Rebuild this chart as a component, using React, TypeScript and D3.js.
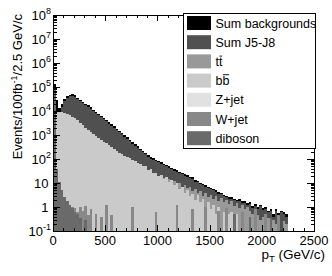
import React, { useEffect, useRef } from 'react';
import * as d3 from 'd3';

// 25 GeV bins from 0 to 2500 GeV/c
const binWidth = 25;
const xTicks = [0, 500, 1000, 1500, 2000, 2500];
const yDecades = [-1, 0, 1, 2, 3, 4, 5, 6, 7, 8];

const sumBackgrounds = [
  1.3e5, 2.8e4, 1.3e4, 2.0e4, 3.2e4, 4.2e4, 4.8e4, 5.0e4, 4.6e4, 3.6e4,
  3.0e4, 2.4e4, 2.0e4, 1.7e4, 1.4e4, 1.1e4, 9.3e3, 7.8e3, 6.3e3, 5.2e3,
  4.3e3, 3.5e3, 2.8e3, 2.3e3, 1.8e3, 1.5e3, 1.2e3, 980, 790, 630,
  510, 420, 340, 270, 220, 180, 145, 120, 105, 93,
  83, 72, 63, 56, 49, 44, 38, 34, 30, 26,
  23, 21, 18, 17, 13, 12.6, 10, 9.5, 7.9, 7.1,
  6.3, 5.8, 5.0, 4.2, 4.0, 3.2, 3.0, 2.5, 2.6, 2.2,
  2.0, 2.1, 1.7, 1.8, 1.4, 1.6, 1.1, 1.3, 1.0, 1.26,
  0.9, 1.0, 0.7, 0.8, 0.5, 0.8, 0.56, 0.7, 0.63, 0.5,
  0, 0, 0, 0, 0, 0, 0, 0, 0, 0,
];

const sumJ5J8 = [
  0, 0, 0, 1.4e4, 2.5e4, 3.5e4, 4.2e4, 4.4e4, 4.0e4, 3.1e4,
  2.6e4, 2.1e4, 1.7e4, 1.5e4, 1.2e4, 9.6e3, 8.1e3, 6.8e3, 5.5e3, 4.5e3,
  3.7e3, 3.0e3, 2.4e3, 2.0e3, 1.6e3, 1.3e3, 1.05e3, 850, 690, 550,
  440, 365, 295, 235, 190, 157, 126, 104, 91, 81,
  72, 63, 55, 49, 43, 38, 33, 30, 26, 23,
  20, 18, 16, 15, 11, 11, 8.7, 8.3, 6.9, 6.2,
  5.5, 5.0, 4.4, 3.6, 3.5, 2.8, 2.6, 2.2, 2.2, 1.9,
  1.7, 1.8, 1.4, 1.5, 1.2, 1.3, 0.95, 1.1, 0.85, 1.05,
  0.75, 0.85, 0.6, 0.65, 0.4, 0.7, 0.45, 0.6, 0.5, 0.4,
  0, 0, 0, 0, 0, 0, 0, 0, 0, 0,
];

const ttbar = [
  8, 45, 120, 210, 280, 320, 330, 320, 300, 275,
  250, 225, 200, 180, 162, 146, 132, 120, 108, 98,
  89, 81, 74, 68, 62, 57, 52, 48, 44, 41,
  38, 35, 32, 30, 28, 26, 24, 22, 21, 19,
  18, 15, 16, 13, 14, 10, 12, 8.5, 10, 7,
  8, 6, 6.5, 4.5, 5.5, 4, 4.5, 3, 3.8, 2.6,
  3.2, 2.2, 2.8, 1.8, 2.4, 1.6, 2.0, 1.3, 1.7, 1.1,
  1.4, 0.9, 1.2, 0.8, 1.0, 0.7, 0.5, 0.35, 0.45, 0.3,
  0.4, 0.25, 0.35, 0, 0.3, 0.2, 0.3, 0, 0.25, 0.2,
  0, 0, 0, 0, 0, 0, 0, 0, 0, 0,
];

const bbbar = [
  7.9e3, 1.0e4, 9.3e3, 8.9e3, 8.3e3, 7.6e3, 6.8e3, 5.9e3, 5.0e3, 4.1e3,
  3.3e3, 2.6e3, 2.0e3, 1.55e3, 1.3e3, 1.07e3, 890, 740, 620, 525,
  450, 370, 320, 260, 225, 185, 160, 135, 117, 105,
  91, 81, 71, 63, 50, 52, 35, 40, 26, 25,
  20, 21, 14, 17, 11, 13, 7.9, 10, 5.6, 7.1,
  4.0, 5.0, 2.8, 3.5, 2.0, 3.2, 1.6, 2.2, 1.0, 1.6,
  0.8, 1.26, 0.5, 1.0, 0, 0.63, 0, 0.5, 0.63, 0,
  0.5, 0, 0, 0, 0, 0, 0, 0, 0, 0,
  0, 0, 0, 0, 0, 0, 0, 0, 0, 0,
  0, 0, 0, 0, 0, 0, 0, 0, 0, 0,
];

const zJet = [
  4.0e4, 30, 6, 2, 1, 0.5, 0.3, 0.2, 0.15, 0,
  0, 0, 0, 0, 0, 0, 0, 0, 0, 0,
  0, 0, 0, 0, 0, 0, 0, 0, 0, 0,
  0, 0, 0, 0, 0, 0, 0, 0, 0, 0,
  0, 0, 0, 0, 0, 0, 0, 0, 0, 0,
  0, 0, 0, 0, 0, 0, 0, 0, 0, 0,
  0, 0, 0, 0, 0, 0, 0, 0, 0, 0,
  0, 0, 0, 0, 0, 0, 0, 0, 0, 0,
  0, 0, 0, 0, 0, 0, 0, 0, 0, 0,
  0, 0, 0, 0, 0, 0, 0, 0, 0, 0,
];

const wJet = [
  3.0e4, 20, 8, 4, 2, 1.4, 1.1, 1.0, 0.9, 0.6,
  1.0, 0.7, 1.1, 0.45, 0.8, 0, 0.5, 0, 0.4, 0,
  1.2, 0, 0.47, 0, 0, 0, 0, 0, 0, 0,
  1.0, 0, 0, 0, 0, 0, 0, 0, 0, 0.63,
  0, 0, 0, 0, 0, 0, 0, 1.2, 0, 0,
  0, 0, 0, 0.8, 0, 0, 0, 0, 1.0, 0,
  0, 0, 0, 0.7, 0, 0, 0.9, 0, 0, 0,
  0, 0, 0.6, 0, 0, 0, 0, 0.8, 0, 0,
  0, 0.5, 0, 0, 0, 0, 0.45, 0, 0, 0,
  0, 0, 0, 0, 0, 0, 0, 0, 0, 0,
];

const diboson = [
  8.0e4, 40, 11, 5, 2.5, 1.7, 1.25, 0.9, 0.63, 0.5,
  0.35, 0, 0.3, 0, 0, 0, 0, 0, 0, 0,
  0, 0, 0, 0, 0, 0, 0, 0, 0, 0,
  0, 0, 0, 0, 0, 0, 0, 0, 0, 0,
  0, 0, 0, 0, 0, 0, 0, 0, 0, 0,
  0, 0, 0, 0, 0, 0, 0, 0, 0, 0,
  0, 0, 0, 0, 0, 0, 0, 0, 0, 0.5,
  0, 0, 0, 0, 0, 0.4, 0, 0, 0, 0,
  0, 0, 0, 0.35, 0, 0, 0, 0, 0, 0,
  0, 0, 0, 0, 0, 0, 0, 0, 0, 0,
];

const series = [
  { name: 'Sum backgrounds', values: sumBackgrounds, color: '#000000' },
  { name: 'Sum J5-J8', values: sumJ5J8, color: '#505050' },
  { name: 'tt', values: ttbar, color: '#999999', bar: true },
  { name: 'bb', values: bbbar, color: '#cacaca', bar: true },
  { name: 'Z+jet', values: zJet, color: '#e1e1e1' },
  { name: 'W+jet', values: wJet, color: '#888888' },
  { name: 'diboson', values: diboson, color: '#6a6a6a' },
];

const font = "'Liberation Sans', Arial, Helvetica, sans-serif";

export default function App() {
  const ref = useRef<SVGSVGElement>(null);

  useEffect(() => {
    const svg = d3.select(ref.current);
    svg.selectAll('*').remove();

    const left = 53, right = 314, top = 15, bottom = 231;
    const yMin = 0.1;

    const x = d3.scaleLinear().domain([0, 2500]).range([left, right]);
    const y = d3.scaleLog().domain([yMin, 1e8]).range([bottom, top]);

    svg.append('rect').attr('width', 332).attr('height', 276).attr('fill', '#fff');

    svg.append('clipPath').attr('id', 'frame')
      .append('rect')
      .attr('x', left).attr('y', top)
      .attr('width', right - left).attr('height', bottom - top);

    const area = d3.area<[number, number]>()
      .x((d) => x(d[0]))
      .y0(y(yMin))
      .y1((d) => y(Math.max(d[1], yMin)));

    const hists = svg.append('g').attr('clip-path', 'url(#frame)');
    series.forEach((s) => {
      const pts: [number, number][] = [];
      s.values.forEach((v, i) => {
        pts.push([i * binWidth, v]);
        pts.push([(i + 1) * binWidth, v]);
      });
      hists.append('path')
        .attr('d', area(pts))
        .attr('fill', s.color)
        .attr('shape-rendering', 'crispEdges');
    });

    // frame
    svg.append('rect')
      .attr('x', left + 0.5).attr('y', top + 0.5)
      .attr('width', right - left).attr('height', bottom - top)
      .attr('fill', 'none').attr('stroke', '#000');

    const ticks = svg.append('g').attr('stroke', '#000').attr('shape-rendering', 'crispEdges');

    // x ticks, bottom and top
    d3.range(0, 2501, 100).forEach((v) => {
      const major = v % 500 === 0;
      const len = major ? 6 : 3;
      const px = Math.round(x(v)) + 0.5;
      ticks.append('line').attr('x1', px).attr('x2', px).attr('y1', bottom).attr('y2', bottom - len);
      ticks.append('line').attr('x1', px).attr('x2', px).attr('y1', top).attr('y2', top + len);
    });

    // y ticks, left and right
    yDecades.forEach((n) => {
      const ks = n < 8 ? d3.range(1, 10) : [1];
      ks.forEach((k) => {
        const v = k * Math.pow(10, n);
        const len = k === 1 ? 7 : 3.5;
        const py = Math.round(y(v)) + 0.5;
        ticks.append('line').attr('x1', left).attr('x2', left + len).attr('y1', py).attr('y2', py);
        ticks.append('line').attr('x1', right).attr('x2', right - len).attr('y1', py).attr('y2', py);
      });
    });

    // x labels
    xTicks.forEach((v) => {
      svg.append('text')
        .attr('x', x(v)).attr('y', 244.5)
        .attr('text-anchor', 'middle')
        .attr('font-family', font).attr('font-size', 13)
        .text(v);
    });

    // y labels
    yDecades.forEach((n) => {
      const py = y(Math.pow(10, n)) + 4.7;
      const t = svg.append('text')
        .attr('text-anchor', 'end')
        .attr('font-family', font).attr('font-size', 13);
      if (n === 0) {
        t.attr('x', 48.5).attr('y', py).text('1');
      } else if (n === 1) {
        t.attr('x', 48.5).attr('y', py).text('10');
      } else {
        t.attr('x', 51).attr('y', py);
        t.append('tspan').text('10');
        t.append('tspan').attr('dy', -6).attr('font-size', 9).text(String(n));
      }
    });

    // x title
    const xt = svg.append('text')
      .attr('x', 325).attr('y', 259)
      .attr('text-anchor', 'end')
      .attr('font-family', font).attr('font-size', 13.5);
    xt.append('tspan').text('p');
    xt.append('tspan').attr('dy', 3).attr('font-size', 9.5).text('T');
    xt.append('tspan').attr('dy', -3).text(' (GeV/c)');

    // y title
    const yt = svg.append('text')
      .attr('transform', 'translate(22,14) rotate(-90)')
      .attr('text-anchor', 'end')
      .attr('font-family', font).attr('font-size', 13);
    yt.append('tspan').text('Events/100fb');
    yt.append('tspan').attr('dy', -5).attr('font-size', 9).text('-1');
    yt.append('tspan').attr('dy', 5).text('/2.5 GeV/c');

    // legend
    const lg = svg.append('g');
    lg.append('rect')
      .attr('x', 183.5).attr('y', 13.5).attr('width', 132).attr('height', 135)
      .attr('fill', '#fff').attr('stroke', '#000')
      .attr('shape-rendering', 'crispEdges');
    series.forEach((s, i) => {
      const ty = 16 + i * 19.2;
      lg.append('rect')
        .attr('x', 187).attr('y', ty).attr('width', 24).attr('height', 14)
        .attr('fill', s.color);
      const t = lg.append('text')
        .attr('x', 215.5).attr('y', ty + 11.5)
        .attr('font-family', font).attr('font-size', 12.5)
        .text(s.name);
      if (s.bar) {
        const node = t.node() as SVGTextElement;
        const x0 = node.getStartPositionOfChar(1).x;
        const x1 = node.getEndPositionOfChar(1).x;
        const by = ty + 11.5 - (s.name === 'tt' ? 9.8 : 10.4);
        lg.append('line')
          .attr('x1', x0 + 0.5).attr('x2', x1 - 0.3)
          .attr('y1', by).attr('y2', by)
          .attr('stroke', '#000').attr('stroke-width', 0.9);
      }
    });
  }, []);

  return (
    <svg
      ref={ref}
      width={332}
      height={276}
      style={{ position: 'absolute', left: 0, top: 0 }}
    />
  );
}
